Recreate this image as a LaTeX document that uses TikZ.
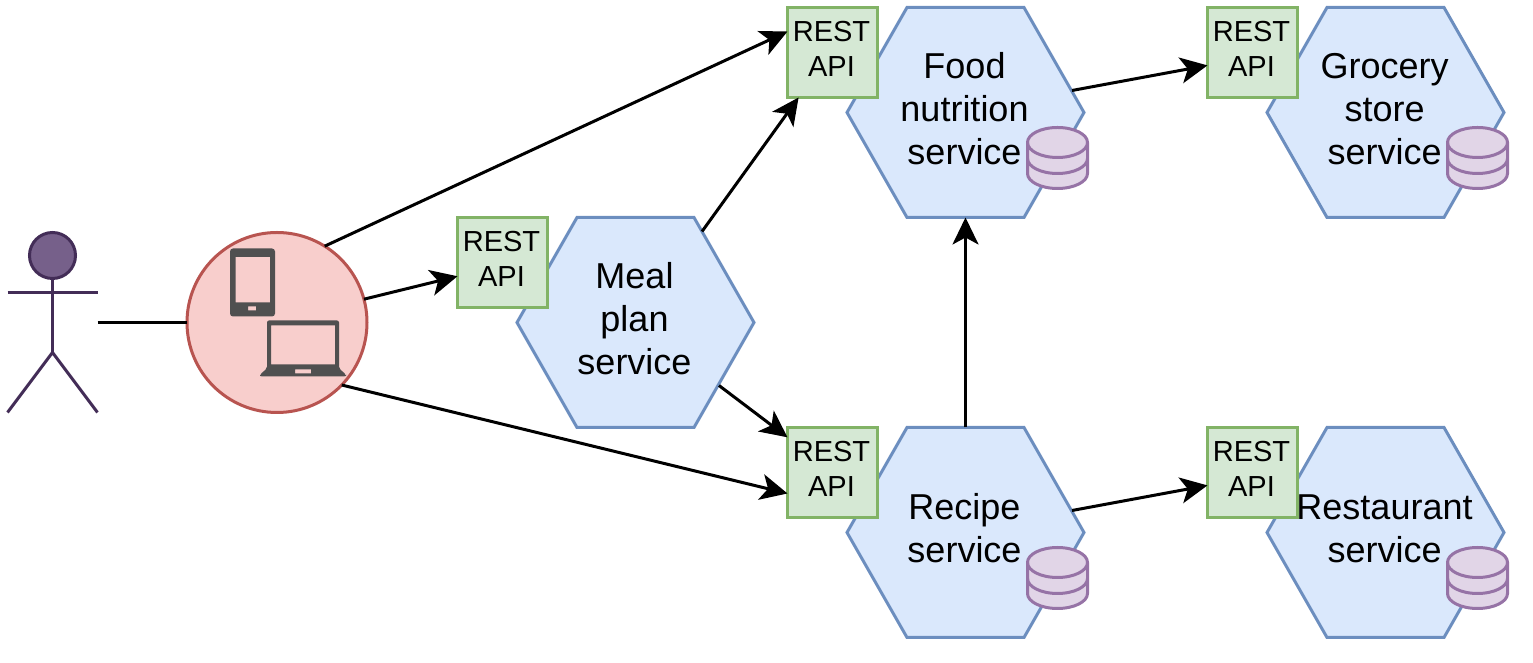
\documentclass[tikz,border=0pt]{standalone}
\usepackage{fontspec}
\setmainfont{Liberation Sans}
\usetikzlibrary{arrows.meta,calc}
\definecolor{hexfill}{HTML}{DAE8FC}
\definecolor{hexline}{HTML}{6C8EBF}
\definecolor{apifill}{HTML}{D5E8D4}
\definecolor{apiline}{HTML}{82B366}
\definecolor{dbfill}{HTML}{E1D5E7}
\definecolor{dbline}{HTML}{9673A6}
\definecolor{appfill}{HTML}{F8CECC}
\definecolor{appline}{HTML}{B85450}
\definecolor{userfill}{HTML}{76608A}
\definecolor{userline}{HTML}{432D57}
\definecolor{iconcol}{HTML}{505050}
\tikzset{
  hexpath/.style={draw=hexline,fill=hexfill,line width=3pt,line join=miter},
  service/.style={rectangle,minimum width=237pt,minimum height=210pt,inner sep=0pt,outer sep=0pt,
    font=\fontsize{36}{43}\selectfont},
  api/.style={rectangle,minimum width=90pt,minimum height=90pt,inner sep=0pt,outer sep=0pt,
    draw=apiline,fill=apifill,line width=3pt,font=\fontsize{29}{35}\selectfont},
  link/.style={line width=3pt,-{Stealth[length=27pt,width=26pt,inset=7pt]}},
  dbicon/.pic={
    \draw[draw=dbline,fill=dbfill,line width=3pt] (-30,0) arc[start angle=180,end angle=0,x radius=30pt,y radius=15pt]
      -- (30,-31) arc[start angle=0,end angle=-180,x radius=30pt,y radius=15pt] -- cycle;
    \draw[draw=dbline,line width=3pt] (-30,0) arc[start angle=180,end angle=360,x radius=30pt,y radius=15pt];
    \draw[draw=dbline,line width=3pt] (-30,-16) arc[start angle=180,end angle=360,x radius=30pt,y radius=15pt];
  }
}
\newcommand{\servicehex}[3]{
  \draw[hexpath,shift={(#2)}] (-118.5,0) -- (-58.5,105) -- (58.5,105) -- (118.5,0) -- (58.5,-105) -- (-58.5,-105) -- cycle;
  \node[service] (#1) at (#2) {\hspace*{-2pt}\begin{tabular}{@{}c@{}}#3\end{tabular}};
}
\begin{document}
\begin{tikzpicture}[x=1pt,y=1pt]
\useasboundingbox (0,0.5) rectangle (1533,663.5);

% User
\draw[userline,line width=3pt] (52.5,385) -- (52.5,311);
\draw[userline,line width=3pt] (7.5,371) -- (97.5,371);
\draw[userline,line width=3pt] (7.5,251) -- (52.5,311) -- (97.5,251);
\node[circle,minimum size=46pt,inner sep=0pt,draw=userline,fill=userfill,line width=3pt] (user) at (52.5,408) {};
\coordinate (userhand) at (97.5,341);

% Client app
\node[circle,minimum size=180pt,inner sep=0pt,outer sep=0pt,draw=appline,fill=appfill,line width=3pt] (app) at (277,341) {};
\fill[iconcol,rounded corners=3pt,even odd rule] (230,347) rectangle (275,415)
  (235.5,361) [sharp corners] rectangle (270,406.5)
  (248,353) rectangle (256,357);
\fill[iconcol,rounded corners=2pt,even odd rule] (267,295) -- (267,343) -- (339,343) -- (339,295) -- (346,289) -- (346,287) -- (260,287) -- (260,289) -- cycle
  [sharp corners] (271,299) rectangle (335,338)
  (295,290) rectangle (311,294);

% Services
\servicehex{meal}{635.5,341}{Meal\\plan\\service}
\servicehex{food}{965.5,551}{Food\\nutrition\\service}
\servicehex{grocery}{1385.5,551}{Grocery\\store\\service}
\servicehex{recipe}{965.5,131}{Recipe\\service}
\servicehex{restaurant}{1385.5,131}{Restaurant\\service}

% REST APIs
\foreach \apiname/\x/\y in {
  mealapi/502.5/401,
  foodapi/832.5/611,
  groceryapi/1252.5/611,
  recipeapi/832.5/191,
  restaurantapi/1252.5/191
}
{
\node[api] (\apiname) at (\x,\y) {\hspace*{-2pt}\begin{tabular}{@{}c@{}}REST\\API\end{tabular}};
}

% Databases
\pic at (1057.5,521) {dbicon};
\pic at (1477.5,521) {dbicon};
\pic at (1057.5,101) {dbicon};
\pic at (1477.5,101) {dbicon};

% Connectors
\coordinate (mealup) at ($(meal.center)+(66.5,91)$);
\coordinate (mealdown) at ($(meal.center)+(83.5,-63)$);
\coordinate (foodout) at ($(food.center)+(106.5,22)$);
\coordinate (recipeout) at ($(recipe.center)+(106.5,22)$);
\draw[line width=3pt] (userhand) -- (app);
\draw[link] (app.58) -- (foodapi.155);
\draw[link] (app.15) -- (mealapi.197);
\draw[link] (app.-44.5) -- (recipeapi.205);
\draw[link] (mealup) -- (foodapi.233);
\draw[link] (mealdown) -- (recipeapi.142);
\draw[link] (recipe.north) -- (food.south);
\draw[link] (foodout) -- (groceryapi.196);
\draw[link] (recipeout) -- (restaurantapi.196);

\end{tikzpicture}
\end{document}
